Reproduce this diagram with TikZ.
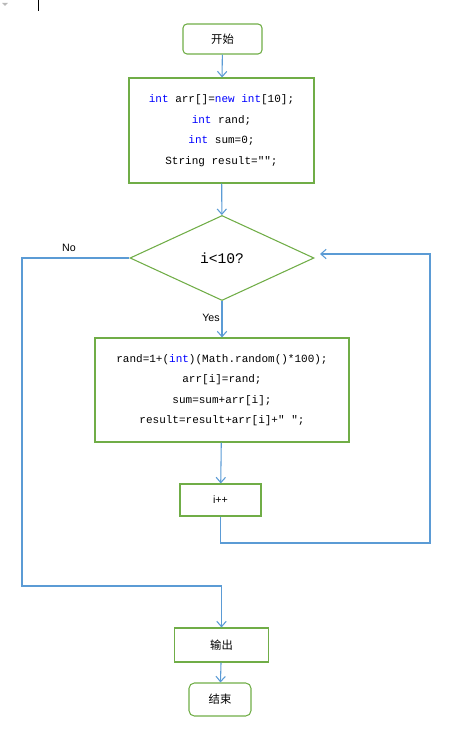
\documentclass[tikz,border=0pt]{standalone}
\usepackage{fontspec}
\setmainfont{Liberation Sans}
\setmonofont{Liberation Mono}
\newfontfamily\cjk{Noto Sans CJK SC}
\usetikzlibrary{shapes.geometric,arrows.meta}
\definecolor{boxgreen}{RGB}{112,173,71}
\definecolor{flowblue}{RGB}{91,155,213}
\definecolor{kwblue}{RGB}{0,0,255}
\newcommand{\kw}[1]{\textcolor{kwblue}{#1}}

\begin{document}
\begin{tikzpicture}[x=0.75pt,y=-0.75pt,
	box/.style={draw=boxgreen,line width=0.8pt,inner sep=0pt,align=center},
	codebox/.style={box,font=\ttfamily\fontsize{8.25}{15.4}\selectfont},
	flow/.style={draw=flowblue,line width=0.8pt,-{Straight Barb[length=4pt,width=7pt]}},
	lbl/.style={font=\fontsize{8}{9}\selectfont}]
\useasboundingbox (0,0) rectangle (461,730);
\fill[gray!55] (2,3) -- (8,3) -- (5,6) -- cycle ; % marker
\draw[line width=1.2pt] (38.5,0) -- (38.5,11) ; % cursor

\node[box,rounded corners=3pt,minimum width=59.25pt,minimum height=22.5pt,font=\cjk\fontsize{8.5}{10}\selectfont] (start) at (222.5,39) {开始};
\node[codebox,minimum width=138.75pt,minimum height=78.75pt] (init) at (221.5,130.5) {\kw{int} arr[]=\kw{new} \kw{int}[10];\\\kw{int} rand;\\\kw{int} sum=0;\\String result="";};
\node[box,diamond,minimum width=138pt,minimum height=63.75pt,font=\ttfamily\fontsize{11}{12}\selectfont] (cond) at (222,258) {i<10?};
\node[codebox,minimum width=190.5pt,minimum height=78pt] (body) at (222,390) {rand=1+(\kw{int})(Math.random()*100);\\arr[i]=rand;\\sum=sum+arr[i];\\result=result+arr[i]+" ";};
\node[box,minimum width=60.75pt,minimum height=24pt,lbl] (inc) at (220.5,500) {i++};
\node[box,minimum width=70.5pt,minimum height=25.5pt,font=\cjk\fontsize{8.5}{10}\selectfont] (out) at (221.5,645) {输出};
\node[box,rounded corners=4pt,minimum width=46.5pt,minimum height=24.75pt,font=\cjk\fontsize{8.5}{10}\selectfont] (stop) at (220,699.5) {结束};

\node[lbl] (no) at (69,248) {No};
\node[lbl] (yes) at (211,318) {Yes};

\coordinate (loopB) at (430,543) ;
\coordinate (loopT) at (430,254) ;
\coordinate (loopIn) at (320,254) ;
\coordinate (noT) at (22,258) ;
\coordinate (noB) at (22,586) ;

\draw[flow] (start) -- (init) ;
\draw[flow] (init) -- (cond) ;
\draw[flow] (cond) -- (body) ;
\draw[flow] (body) -- (inc) ;
\draw[flow] (inc.south) |- (loopB) -- (loopT) -- (loopIn) ;
\draw[flow] (cond.west) -- (noT) -- (noB) -| (out.north) ;
\draw[flow] (out) -- (stop) ;
\end{tikzpicture}
\end{document}
